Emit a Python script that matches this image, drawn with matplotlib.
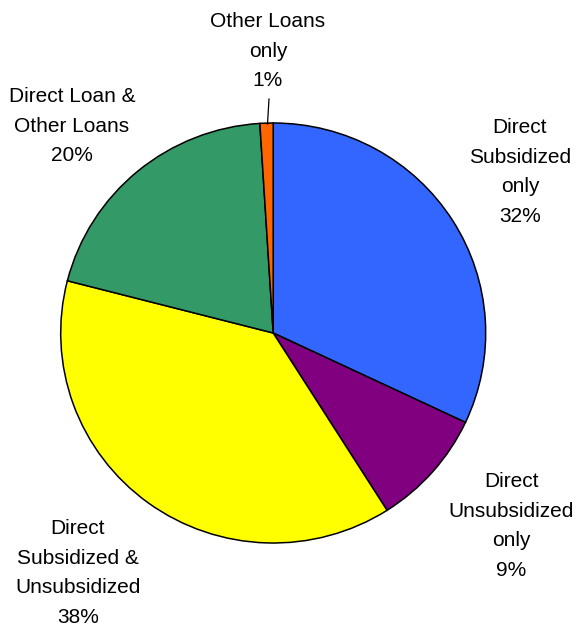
import matplotlib
matplotlib.use("Agg")
import matplotlib.pyplot as plt

categories = ["Direct\nSubsidized\nonly", "Direct\nUnsubsidized\nonly",
              "Direct\nSubsidized &\nUnsubsidized", "Direct Loan &\nOther Loans",
              "Other Loans\nonly"]
values = [32, 9, 38, 20, 1]
colors = ["#3366FF", "#800080", "#FFFF00", "#339966", "#FF6600"]
# label centers (pixel coords, image y down)
label_pos = [(520, 172), (511, 526), (78, 573), (72, 126), (268, 51)]

W, H = 578, 630
fig = plt.figure(figsize=(W / 100, H / 100), dpi=100)
ax = fig.add_axes([0, 0, 1, 1])
cx, cy, rx, ry = 273.2, 333, 212.5, 210
s = rx / ry  # vertical stretch of data units


def py(y):
    return (H - y) * s


ax.pie(values, colors=colors, startangle=90, counterclock=False,
       center=(cx, py(cy)), radius=rx,
       wedgeprops=dict(edgecolor="black", linewidth=1.1))
ax.set_xlim(0, W)
ax.set_ylim(0, H * s)
ax.set_aspect("auto")
ax.axis("off")

for cat, v, (x, y) in zip(categories, values, label_pos):
    ax.text(x, py(y), f"{cat}\n{v}%", ha="center", va="center",
            fontsize=15, family="Liberation Sans", linespacing=1.7)

# leader line for the smallest slice
ax.plot([269, 267.5], [py(99), py(124)], color="black", linewidth=0.9)

fig.savefig("out.png", dpi=100)
